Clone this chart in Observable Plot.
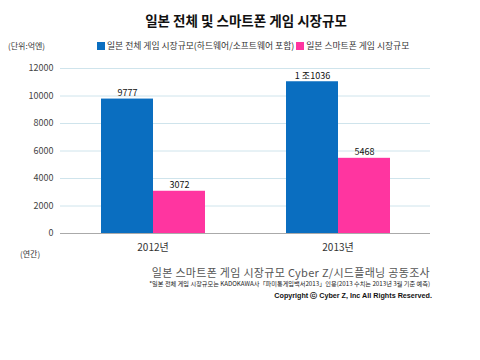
<!DOCTYPE html>
<html><head><meta charset="utf-8">
<script src="https://cdn.jsdelivr.net/npm/d3@7"></script>
<script src="https://cdn.jsdelivr.net/npm/@observablehq/plot@0.6"></script>
<style>
body{margin:0;background:#fff;font-family:"Noto Sans CJK KR",sans-serif;}
#wrap{position:relative;width:480px;height:360px;overflow:hidden;}
.t{position:absolute;white-space:nowrap;line-height:1;}
#title{left:0;width:492px;text-align:center;top:14px;font-size:13.5px;font-weight:700;color:#111;}
#unit{left:8px;top:42px;font-size:8px;color:#333;}
#legend{left:97px;top:42px;font-size:8.8px;color:#333;display:flex;align-items:center;}
.sw{display:inline-block;width:8px;height:8px;margin-right:2px;}
#annual{left:20px;top:250px;font-size:8px;color:#333;}
#src{right:50px;top:267px;font-size:11px;color:#555;letter-spacing:0.3px;}
#note{right:50px;top:281px;font-size:6.2px;color:#222;}
#copy{right:48px;top:292px;font-size:7.2px;font-weight:700;color:#111;font-family:"Liberation Sans",Arial,sans-serif;}
</style></head>
<body><div id="wrap">
<div class="t" id="title">일본 전체 및 스마트폰 게임 시장규모</div>
<div class="t" id="unit">(단위:억엔)</div>
<div class="t" id="legend"></div>
<div class="t" id="annual">(연간)</div>
<div class="t" id="src">일본 스마트폰 게임 시장규모 Cyber Z/시드플래닝 공동조사</div>
<div class="t" id="note">*일본 전체 게임 시장규모는 KADOKAWA사「파미통게임백서2013」인용(2013 수치는 2013년 3월 기준 예측)</div>
<div class="t" id="copy">Copyright ⓒ Cyber Z, Inc All Rights Reserved.</div>
<div id="chart" style="position:absolute;left:0;top:0;"></div>
</div>
<script>
const years = ["2012년", "2013년"];
const seriesNames = ["일본 전체 게임 시장규모(하드웨어/소프트웨어 포함)", "일본 스마트폰 게임 시장규모"];
const totalMarket = [9777, 11036];
const smartphoneMarket = [3072, 5468];
const seriesColors = ["#0a6ec0", "#ff35a0"];
const yTicks = [0, 2000, 4000, 6000, 8000, 10000, 12000];

const fmt = v => v >= 10000 ? `${Math.floor(v / 10000)} 조${String(v % 10000).padStart(4, "0")}` : String(v);

const data = [];
years.forEach((y, i) => {
  data.push({year: y, series: seriesNames[0], value: totalMarket[i]});
  data.push({year: y, series: seriesNames[1], value: smartphoneMarket[i]});
});

// legend
const lg = document.getElementById("legend");
seriesNames.forEach((s, i) => {
  const sw = document.createElement("span");
  sw.className = "sw"; sw.style.background = seriesColors[i];
  const tx = document.createElement("span");
  tx.textContent = s; tx.style.marginRight = i === 0 ? "2px" : "0";
  lg.appendChild(sw); lg.appendChild(tx);
});

const chart = Plot.plot({
  width: 480, height: 360,
  marginTop: 68, marginBottom: 127, marginLeft: 60, marginRight: 50,
  style: {fontFamily: "'Noto Sans CJK KR', sans-serif", fontSize: "9px", color: "#444", background: "transparent"},
  fx: {domain: years, padding: 0, label: null},
  x: {domain: seriesNames, paddingInner: 0, paddingOuter: 0.76, axis: null},
  y: {domain: [0, 12000], ticks: yTicks, label: null},
  color: {domain: seriesNames, range: seriesColors},
  marks: [
    Plot.gridY(yTicks.filter(d => d > 0), {stroke: "#cfe4ec", strokeOpacity: 1, strokeWidth: 1}),
    Plot.axisY(yTicks, {tickSize: 0, tickPadding: 7, fontSize: 9, fill: "#444", tickFormat: d => String(d), label: null}),
    Plot.axisFx({anchor: "bottom", tickSize: 0, tickPadding: 10, fontSize: 10, fill: "#333", label: null}),
    Plot.barY(data, {fx: "year", x: "series", y: "value", fill: "series"}),
    Plot.ruleY([0], {stroke: "#aaa", strokeWidth: 1}),
    Plot.text(data, {fx: "year", x: "series", y: "value", text: d => fmt(d.value), dy: -6, fontSize: 9, fill: "#111"})
  ]
});
document.getElementById("chart").appendChild(chart);
</script>
</body></html>
